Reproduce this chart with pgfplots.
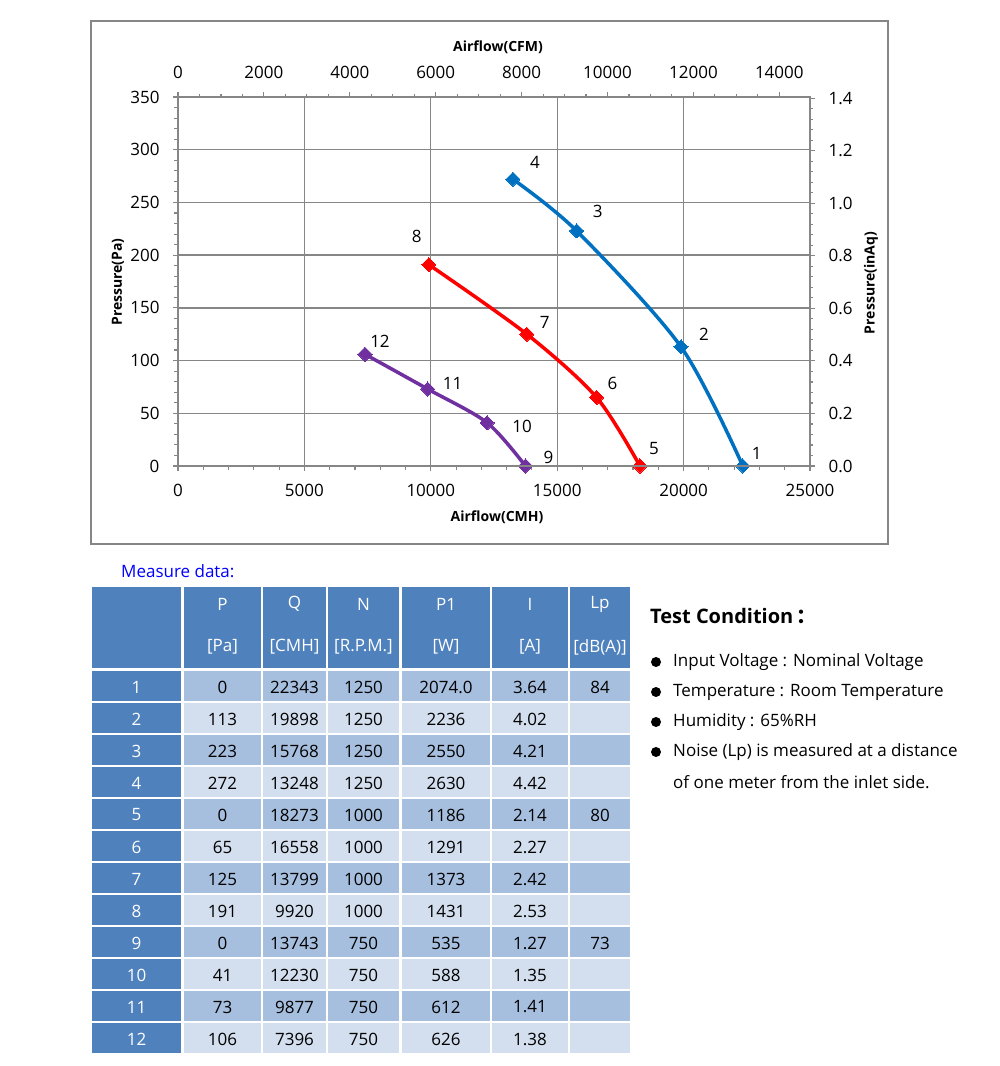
\documentclass[border=0pt]{standalone}
\usepackage{fontspec}
\setmainfont{Open Sans}
\newfontfamily\cjk{Noto Sans CJK SC}
\usepackage{pgfplots}
\pgfplotsset{compat=1.18}

\definecolor{gridgray}{RGB}{134,134,134}
\definecolor{sblue}{RGB}{0,112,192}
\definecolor{sred}{RGB}{255,0,0}
\definecolor{spurple}{RGB}{112,48,160}
\definecolor{hdr}{RGB}{79,129,189}
\definecolor{rowA}{RGB}{167,191,222}
\definecolor{rowB}{RGB}{211,223,238}
\definecolor{mblue}{RGB}{0,0,255}

\newcommand\fs[1]{\fontsize{#1}{#1}\selectfont}

\newcommand\cell[5]{%
  \fill[#4] (#1,#3) rectangle (#2,#3+30);
  \node[font=\fs{17},inner sep=0pt] at ({(#1+#2)/2},#3+16) {#5};
}
\newcommand\trow[8]{%
  \pgfmathsetmacro\rt{671+32*(#1-1)}%
  \cell{92}{181}{\rt}{hdr}{\color{white}#1}%
  \cell{184}{261}{\rt}{#8}{#2}%
  \cell{263}{326}{\rt}{#8}{#3}%
  \cell{328}{399}{\rt}{#8}{#4}%
  \cell{402}{490}{\rt}{#8}{#5}%
  \cell{492}{568}{\rt}{#8}{#6}%
  \cell{570}{630}{\rt}{#8}{#7}%
}
\newcommand\hcell[4]{%
  \fill[hdr] (#1,587) rectangle (#2,668);
  \node[font=\fs{17},text=white,inner sep=0pt] at ({(#1+#2)/2},604) {#3};
  \node[font=\fs{17},text=white,inner sep=0pt] at ({(#1+#2)/2},647) {#4};
}

\begin{document}
\begin{tikzpicture}
\path[use as bounding box, fill=white] (0pt,0pt) rectangle (1000pt,1066pt);

\begin{axis}[
  at={(178pt,600pt)}, anchor=south west, scale only axis,
  width=632pt, height=369pt,
  xmin=0, xmax=25000, ymin=0, ymax=350,
  xtick distance=5000, ytick distance=50,
  minor x tick num=4, minor y tick num=4,
  xtick pos=left, ytick pos=left,
  tick align=outside,
  major tick length=5pt, minor tick length=4pt,
  axis line style={gridgray, line width=1.3pt},
  every tick/.style={gridgray, line width=1.1pt},
  xmajorgrids, ymajorgrids,
  major grid style={gridgray, line width=1.3pt},
  scaled ticks=false,
  /pgf/number format/assume math mode=true,
  /pgf/number format/1000 sep={},
  tick label style={font=\fs{17}},
  xticklabel style={anchor=center, yshift=-19pt},
  yticklabel style={anchor=east, xshift=-10pt},
  clip=false,
]
\addplot[sblue, line width=3.5pt, smooth, mark=square*, mark size=5pt, mark options={rotate=45, line width=0pt}]
  coordinates {(22343,0) (19898,113) (15768,223) (13248,272)};
\addplot[sred, line width=3.5pt, smooth, mark=square*, mark size=5pt, mark options={rotate=45, line width=0pt}]
  coordinates {(18273,0) (16558,65) (13799,125) (9920,191)};
\addplot[spurple, line width=3.5pt, smooth, mark=square*, mark size=5pt, mark options={rotate=45, line width=0pt}]
  coordinates {(13743,0) (12230,41) (9877,73) (7396,106)};
\begin{scope}[every node/.style={font=\fs{17}}]
\node[xshift=14pt,yshift=13pt] at (axis cs:22343,0) {1};
\node[xshift=23pt,yshift=13pt] at (axis cs:19898,113) {2};
\node[xshift=21pt,yshift=19pt] at (axis cs:15768,223) {3};
\node[xshift=22pt,yshift=17pt] at (axis cs:13248,272) {4};
\node[xshift=14pt,yshift=17pt] at (axis cs:18273,0) {5};
\node[xshift=16pt,yshift=14pt] at (axis cs:16558,65) {6};
\node[xshift=18pt,yshift=12pt] at (axis cs:13799,125) {7};
\node[xshift=-12pt,yshift=28pt] at (axis cs:9920,191) {8};
\node[xshift=23pt,yshift=9pt] at (axis cs:13743,0) {9};
\node[xshift=35pt,yshift=-4pt] at (axis cs:12230,41) {10};
\node[xshift=25pt,yshift=6pt] at (axis cs:9877,73) {11};
\node[xshift=15pt,yshift=13pt] at (axis cs:7396,106) {12};
\end{scope}
\end{axis}

\begin{axis}[
  at={(178pt,600pt)}, anchor=south west, scale only axis,
  width=632pt, height=369pt,
  xmin=0, xmax=14714.5, ymin=0, ymax=1.4051,
  xtick={0,2000,4000,6000,8000,10000,12000,14000}, minor x tick num=3,
  ytick={0,0.2,0.4,0.6,0.8,1.0,1.2,1.4}, minor y tick num=4,
  xtick pos=right, ytick pos=right,
  tick align=outside,
  major tick length=5pt, minor tick length=3pt,
  axis line style={gridgray, line width=1.3pt},
  every tick/.style={gridgray, line width=1.1pt},
  scaled ticks=false,
  /pgf/number format/assume math mode=true,
  /pgf/number format/1000 sep={},
  tick label style={font=\fs{17}},
  xticklabel style={anchor=center, yshift=20pt},
  yticklabel style={anchor=west, xshift=10pt, /pgf/number format/.cd, fixed, fixed zerofill, precision=1},
]
\end{axis}

\begin{scope}[x=1pt,y=-1pt,shift={(0pt,1066pt)}]
  \draw[gridgray,line width=1.5pt] (91,21) rectangle (888,544);
  \node[font=\bfseries\fs{14}] at (498,47) {Airflow(CFM)};
  \node[font=\bfseries\fs{14}] at (497,517) {Airflow(CMH)};
  \node[font=\bfseries\fs{14},rotate=90] at (118,282) {Pressure(Pa)};
  \node[font=\bfseries\fs{14},rotate=90] at (871,283) {Pressure(inAq)};

  \node[font=\fs{17},text=mblue,anchor=west,inner sep=0pt] at (121,571) {Measure data:};

  \hcell{92}{181}{}{}
  \hcell{184}{261}{P}{[Pa]}
  \hcell{263}{326}{Q}{[CMH]}
  \hcell{328}{399}{N}{[R.P.M.]}
  \hcell{402}{490}{P1}{[W]}
  \hcell{492}{568}{I}{[A]}
  \hcell{570}{630}{Lp}{[dB(A)]}

  \trow{1}{0}{22343}{1250}{2074.0}{3.64}{84}{rowA}
  \trow{2}{113}{19898}{1250}{2236}{4.02}{}{rowB}
  \trow{3}{223}{15768}{1250}{2550}{4.21}{}{rowA}
  \trow{4}{272}{13248}{1250}{2630}{4.42}{}{rowB}
  \trow{5}{0}{18273}{1000}{1186}{2.14}{80}{rowA}
  \trow{6}{65}{16558}{1000}{1291}{2.27}{}{rowB}
  \trow{7}{125}{13799}{1000}{1373}{2.42}{}{rowA}
  \trow{8}{191}{9920}{1000}{1431}{2.53}{}{rowB}
  \trow{9}{0}{13743}{750}{535}{1.27}{73}{rowA}
  \trow{10}{41}{12230}{750}{588}{1.35}{}{rowB}
  \trow{11}{73}{9877}{750}{612}{1.41}{}{rowA}
  \trow{12}{106}{7396}{750}{626}{1.38}{}{rowB}

  \node[font=\bfseries\fs{20},anchor=west,inner sep=0pt] at (650,616) {Test Condition\,{\cjk ：}};
  \foreach \yy in {662,692,722,752} {\fill (656,\yy) circle (5);}
  \begin{scope}[every node/.style={font=\fs{17},anchor=west,inner sep=0pt}]
    \node at (673,662) {Input Voltage : Nominal Voltage};
    \node at (673,692) {Temperature : Room Temperature};
    \node at (673,722) {Humidity : 65\%RH};
    \node at (673,752) {Noise (Lp) is measured at a distance};
    \node at (673,782) {of one meter from the inlet side.};
  \end{scope}
\end{scope}
\end{tikzpicture}
\end{document}
